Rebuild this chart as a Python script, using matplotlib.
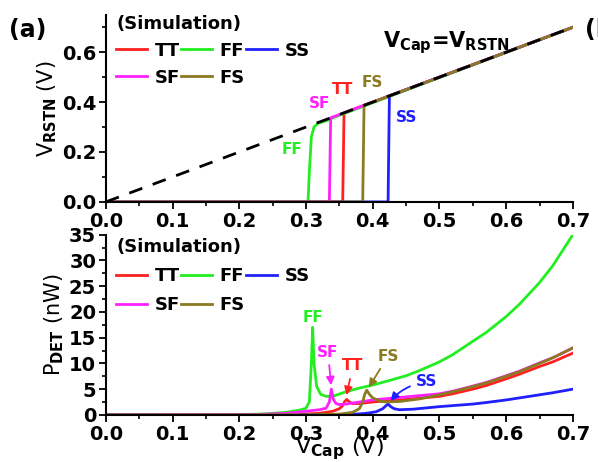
import matplotlib
matplotlib.use("Agg")
import matplotlib.pyplot as plt
from matplotlib.ticker import MultipleLocator

plt.rcParams['font.family'] = ['DejaVu Sans']
plt.rcParams['font.weight'] = 'bold'
plt.rcParams['mathtext.default'] = 'bf'
plt.rcParams['axes.linewidth'] = 1.5

corners = ['TT', 'FF', 'SS', 'SF', 'FS']
colors = {'TT': '#ff2020', 'FF': '#22ee22', 'SS': '#2020ff', 'SF': '#ff20ff', 'FS': '#8a7a20'}
xticks = [0.0, 0.1, 0.2, 0.3, 0.4, 0.5, 0.6, 0.7]

# V_RSTN (V) vs V_Cap (V)
v_x = {
    'TT': [0, 0.355, 0.357, 0.7],
    'FF': [0, 0.303, 0.305, 0.308, 0.312, 0.318, 0.33, 0.345, 0.7],
    'SS': [0, 0.423, 0.425, 0.7],
    'SF': [0, 0.335, 0.337, 0.7],
    'FS': [0, 0.385, 0.387, 0.7],
}
v_y = {
    'TT': [0, 0, 0.357, 0.7],
    'FF': [0, 0, 0.12, 0.26, 0.30, 0.315, 0.325, 0.342, 0.7],
    'SS': [0, 0, 0.425, 0.7],
    'SF': [0, 0, 0.337, 0.7],
    'FS': [0, 0, 0.387, 0.7],
}
ideal_x = [0, 0.7]
ideal_y = [0, 0.7]

# P_DET (nW) vs V_Cap (V)
p_x = {
    'TT': [0, 0.28, 0.32, 0.34, 0.35, 0.355, 0.358, 0.361, 0.365, 0.37, 0.38, 0.4, 0.45, 0.5,
           0.52, 0.55, 0.57, 0.6, 0.62, 0.65, 0.67, 0.7],
    'FF': [0, 0.2, 0.24, 0.27, 0.29, 0.3, 0.305, 0.308, 0.31, 0.312, 0.316, 0.322, 0.33, 0.34, 0.36,
           0.38, 0.4, 0.42, 0.45, 0.47, 0.5, 0.52, 0.55, 0.57, 0.6, 0.62, 0.65, 0.67, 0.7],
    'SS': [0, 0.33, 0.37, 0.39, 0.405, 0.415, 0.42, 0.423, 0.427, 0.432, 0.44, 0.46, 0.5,
           0.52, 0.55, 0.57, 0.6, 0.62, 0.65, 0.67, 0.7],
    'SF': [0, 0.22, 0.27, 0.3, 0.32, 0.33, 0.335, 0.338, 0.341, 0.345, 0.35, 0.36, 0.38, 0.4, 0.45,
           0.5, 0.52, 0.55, 0.57, 0.6, 0.62, 0.65, 0.67, 0.7],
    'FS': [0, 0.3, 0.35, 0.37, 0.38, 0.385, 0.388, 0.391, 0.395, 0.4, 0.41, 0.42, 0.44, 0.47, 0.5,
           0.52, 0.55, 0.57, 0.6, 0.62, 0.65, 0.67, 0.7],
}
p_y = {
    'TT': [0, 0.05, 0.3, 0.7, 1.2, 1.8, 2.6, 3.0, 2.5, 2.2, 2.2, 2.5, 3.0, 3.6,
           4.1, 5.0, 5.7, 7.0, 7.9, 9.4, 10.3, 12.0],
    'FF': [0, 0.05, 0.2, 0.5, 0.9, 1.3, 2.5, 10, 17, 10, 5.5, 4.0, 3.6, 3.6, 4.5,
           5.2, 5.8, 6.5, 7.6, 8.6, 10.3, 11.7, 14.3, 16.0, 19.1, 21.5, 25.7, 29.0, 35],
    'SS': [0, 0.02, 0.1, 0.3, 0.6, 1.2, 1.8, 2.1, 1.6, 1.2, 1.0, 1.1, 1.6,
           1.8, 2.1, 2.4, 2.9, 3.3, 3.9, 4.3, 5.0],
    'SF': [0, 0.05, 0.3, 0.7, 1.0, 1.3, 2.5, 5.0, 3.0, 2.2, 2.0, 2.1, 2.5, 2.9, 3.5,
           4.1, 4.6, 5.6, 6.3, 7.6, 8.5, 10.1, 11.1, 13.0],
    'FS': [0, 0.02, 0.15, 0.5, 1.2, 2.5, 4.0, 4.8, 4.0, 3.3, 2.7, 2.5, 2.6, 3.1, 3.9,
           4.5, 5.5, 6.2, 7.5, 8.4, 10.0, 11.1, 13.0],
}

fig = plt.figure(figsize=(5.98, 4.62), dpi=100)
ax1 = fig.add_axes([0.177, 0.563, 0.781, 0.405])
ax2 = fig.add_axes([0.177, 0.102, 0.781, 0.390])

for c in corners:
    ax1.plot(v_x[c], v_y[c], color=colors[c], lw=2, label=c)
ax1.plot(ideal_x, ideal_y, color='black', lw=2, ls=(0, (5, 4)))

for c in corners:
    ax2.plot(p_x[c], p_y[c], color=colors[c], lw=2, label=c)

for ax, anchor, spacing in ((ax1, 1.02, 0.5), (ax2, 1.0, 0.6)):
    ax.spines['top'].set_visible(False)
    ax.spines['right'].set_visible(False)
    ax.set_xticks(xticks)
    ax.set_xticklabels(['%.1f' % t for t in xticks])
    ax.xaxis.set_minor_locator(MultipleLocator(0.05))
    ax.set_xlim(0, 0.7)
    ax.tick_params(which='major', direction='out', length=5, width=1.3, labelsize=14, pad=2)
    ax.tick_params(which='minor', direction='out', length=3, width=1.2)
    h, l = ax.get_legend_handles_labels()
    order = [0, 3, 1, 4, 2]
    ax.legend([h[i] for i in order], [l[i] for i in order], ncol=3, loc='upper left',
              bbox_to_anchor=(0.015, anchor), frameon=False, fontsize=13, title='(Simulation)',
              title_fontproperties={'size': 13, 'weight': 'bold'}, alignment='left',
              handlelength=1.7, handletextpad=0.4, columnspacing=0.1, labelspacing=spacing,
              borderaxespad=0, borderpad=0.2)

ax1.set_ylim(0, 0.75)
ax1.set_yticks([0, 0.2, 0.4, 0.6])
ax1.set_yticklabels(['0.0', '0.2', '0.4', '0.6'])
ax1.yaxis.set_minor_locator(MultipleLocator(0.1))
ax1.set_ylabel(r'V$_{RSTN}$ (V)', fontsize=15, labelpad=2)

ax2.set_ylim(0, 35)
ax2.yaxis.set_major_locator(MultipleLocator(5))
ax2.yaxis.set_minor_locator(MultipleLocator(2.5))
ax2.set_ylabel(r'P$_{DET}$ (nW)', fontsize=15, labelpad=2)
ax2.set_xlabel(r'V$_{Cap}$ (V)', fontsize=16, labelpad=-6)

# labels on top panel
ax1.text(0.279, 0.21, 'FF', color=colors['FF'], fontsize=11, ha='center', va='center')
ax1.text(0.32, 0.395, 'SF', color=colors['SF'], fontsize=11, ha='center', va='center')
ax1.text(0.355, 0.45, 'TT', color=colors['TT'], fontsize=11, ha='center', va='center')
ax1.text(0.40, 0.478, 'FS', color=colors['FS'], fontsize=11, ha='center', va='center')
ax1.text(0.45, 0.34, 'SS', color=colors['SS'], fontsize=11, ha='center', va='center')
ax1.text(0.415, 0.64, r'V$_{Cap}$=V$_{RSTN}$', fontsize=15, ha='left', va='center')

# labels on bottom panel
ax2.text(0.31, 18.9, 'FF', color=colors['FF'], fontsize=11, ha='center', va='center')
arrow = dict(arrowstyle='-|>', lw=1.3, mutation_scale=12)
ax2.annotate('SF', xy=(0.338, 5.2), xytext=(0.333, 12.2), color=colors['SF'], fontsize=11,
             ha='center', va='center', arrowprops=dict(arrow, color=colors['SF']))
ax2.annotate('TT', xy=(0.36, 3.3), xytext=(0.37, 9.5), color=colors['TT'], fontsize=11,
             ha='center', va='center', arrowprops=dict(arrow, color=colors['TT']))
ax2.annotate('FS', xy=(0.392, 4.9), xytext=(0.423, 11.4), color=colors['FS'], fontsize=11,
             ha='center', va='center', arrowprops=dict(arrow, color=colors['FS']))
ax2.annotate('SS', xy=(0.424, 2.3), xytext=(0.48, 6.4), color=colors['SS'], fontsize=11,
             ha='center', va='center',
             arrowprops=dict(arrow, color=colors['SS'], connectionstyle='arc3,rad=0.2'))

fig.text(0.015, 0.935, '(a)', fontsize=17, ha='left', va='center')
fig.text(0.978, 0.935, '(b)', fontsize=17, ha='left', va='center')

fig.savefig('out.png', dpi=100)
